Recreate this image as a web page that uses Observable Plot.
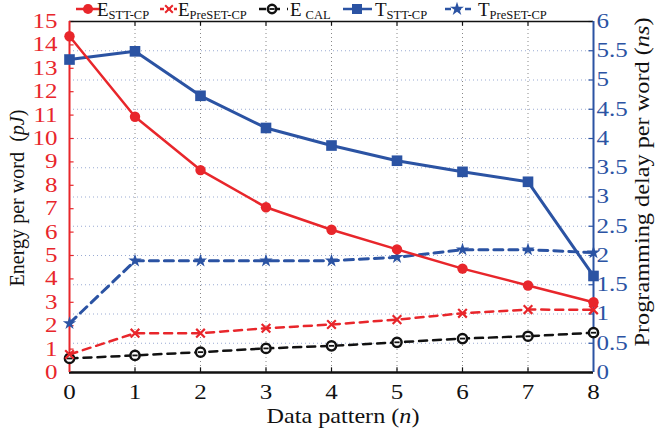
<!DOCTYPE html>
<html><head><meta charset="utf-8">
<script src="https://cdn.jsdelivr.net/npm/d3@7"></script>
<script src="https://cdn.jsdelivr.net/npm/@observablehq/plot@0.6"></script>
<style>body{margin:0;background:#fff} #chart{width:655px;height:432px;position:relative}</style>
</head><body><div id="chart"></div>
<script>
// ---- data ----
const patterns = [0, 1, 2, 3, 4, 5, 6, 7, 8];
const energySTT    = [14.37, 10.93, 8.65, 7.06, 6.10, 5.26, 4.44, 3.72, 3.00];
const energyPreSET = [0.77, 1.68, 1.68, 1.89, 2.05, 2.26, 2.53, 2.69, 2.68];
const energyCAL    = [0.60, 0.73, 0.87, 1.03, 1.14, 1.29, 1.45, 1.55, 1.70];
const delaySTT     = [5.35, 5.49, 4.73, 4.18, 3.88, 3.62, 3.43, 3.26, 1.65];
const delayPreSET  = [0.84, 1.91, 1.91, 1.91, 1.91, 1.97, 2.10, 2.10, 2.05];
const energyTicks = [0,1,2,3,4,5,6,7,8,9,10,11,12,13,14,15];
const delayTicks = [0,0.5,1,1.5,2,2.5,3,3.5,4,4.5,5,5.5,6];
const legendMain = ["E", "E", "E", "T", "T"];
const legendSub = ["STT-CP", "PreSET-CP", "CAL", "STT-CP", "PreSET-CP"];
const xTitle = ["Data pattern (", "n", ")"];
const yTitle = ["Energy per word  (", "pJ", ")"];
const y2Title = ["Programming delay per word (", "ns", ")"];

// ---- styling ----
const FONT = "'Liberation Serif', 'Times New Roman', serif";
const RED = "#e8262b", BLUE = "#2b53a3", BLACK = "#111";
const K = 15 / 6; // the right axis (0–6 ns) shares the left axis (0–15 pJ)

const rows = (vals, k = 1) => patterns.map((n, i) => ({n, v: vals[i] * k}));
const eSTT = rows(energySTT), ePre = rows(energyPreSET), eCal = rows(energyCAL);
const tSTT = rows(delaySTT, K), tPre = rows(delayPreSET, K);
const minus = {draw(ctx, size) { const r = Math.sqrt(size / Math.PI); ctx.moveTo(-r, 0); ctx.lineTo(r, 0); }};

const inner = patterns.filter(d => d > 0 && d < 8);
const chart = Plot.plot({
  width: 655, height: 432,
  marginLeft: 69, marginRight: 62, marginTop: 21, marginBottom: 60,
  style: {fontFamily: FONT, background: "#fff", overflow: "visible"},
  x: {domain: [0, 8]},
  y: {domain: [0, 15]},
  marks: [
    // grid
    Plot.ruleX(inner, {x: d => d, stroke: "#888", strokeDasharray: "1,3", strokeWidth: 1}),
    Plot.ruleY(delayTicks.slice(1, -1), {y: d => d * K, stroke: "#9aabd3", strokeDasharray: "1,3", strokeWidth: 1}),
    // ticks inside the frame
    Plot.ruleX(inner, {x: d => d, y1: 0, y2: 0.2, stroke: BLACK, strokeWidth: 1.2}),
    Plot.ruleX(inner, {x: d => d, y1: 15, y2: 14.8, stroke: BLACK, strokeWidth: 1.2}),
    Plot.ruleY(energyTicks, {y: d => d, x1: 0, x2: 0.07, stroke: RED, strokeWidth: 1.2}),
    Plot.ruleY(delayTicks, {y: d => d * K, x1: 8, x2: 7.93, stroke: BLUE, strokeWidth: 1.2}),
    // frame
    Plot.ruleY([15], {stroke: BLACK, strokeWidth: 1.5}),
    Plot.ruleY([0], {stroke: BLACK, strokeWidth: 2.5}),
    Plot.ruleX([0], {stroke: RED, strokeWidth: 2}),
    Plot.ruleX([8], {stroke: BLUE, strokeWidth: 2}),
    // axes
    Plot.axisX(patterns, {tickSize: 0, tickPadding: 12, fontSize: 20, color: BLACK, label: null}),
    Plot.axisY(energyTicks, {anchor: "left", tickSize: 0, tickPadding: 12, fontSize: 20, color: RED, label: null}),
    Plot.axisY(delayTicks.map(d => d * K), {anchor: "right", tickSize: 0, tickPadding: 3, fontSize: 20, color: BLUE, label: null,
      tickFormat: d => String(+(d / K).toFixed(2))}),
    // delay series
    Plot.line(tSTT, {x: "n", y: "v", stroke: BLUE, strokeWidth: 3}),
    Plot.dot(tSTT, {x: "n", y: "v", symbol: "square", r: 6, fill: BLUE}),
    Plot.line(tPre, {x: "n", y: "v", stroke: BLUE, strokeWidth: 3, strokeDasharray: "9,6"}),
    Plot.dot(tPre, {x: "n", y: "v", symbol: "star", r: 4.2, fill: BLUE}),
    // energy series
    Plot.line(eCal, {x: "n", y: "v", stroke: BLACK, strokeWidth: 2.5, strokeDasharray: "8,6"}),
    Plot.dot(eCal, {x: "n", y: "v", r: 4.6, fill: "#fff", stroke: BLACK, strokeWidth: 2.5}),
    Plot.dot(eCal, {x: "n", y: "v", r: 2.6, symbol: minus, stroke: BLACK, strokeWidth: 1.8}),
    Plot.line(ePre, {x: "n", y: "v", stroke: RED, strokeWidth: 2.5, strokeDasharray: "8,6"}),
    Plot.dot(ePre, {x: "n", y: "v", symbol: "times", r: 4, stroke: RED, strokeWidth: 2.2}),
    Plot.line(eSTT, {x: "n", y: "v", stroke: RED, strokeWidth: 2.5}),
    Plot.dot(eSTT, {x: "n", y: "v", r: 5.2, fill: RED})
  ]
});
document.getElementById("chart").appendChild(chart);

// widen tick labels horizontally like the reference (scale about each label's anchor)
chart.querySelectorAll('g[aria-label$="tick label"] text').forEach(t => {
  const tr = t.getAttribute("transform") || "";
  t.setAttribute("transform", `${tr} scale(1.25,1)`);
});

const svg = d3.select(chart);
// titles
function title(parts, attrs, italicIndex) {
  const t = svg.append("text").attr("font-family", FONT);
  Object.entries(attrs).forEach(([k, v]) => t.attr(k, v));
  parts.forEach((p, i) => t.append("tspan").attr("font-style", i === italicIndex ? "italic" : null)
    .style("white-space", "pre").text(p));
  return t;
}
title(xTitle, {"font-size": 21, "text-anchor": "middle", transform: "translate(343,423)",
  textLength: 153, lengthAdjust: "spacingAndGlyphs", fill: BLACK}, 1);
title(yTitle, {"font-size": 20, "text-anchor": "middle", transform: "translate(24,198) rotate(-90)",
  textLength: 177, lengthAdjust: "spacingAndGlyphs", fill: BLACK}, 1);
title(y2Title, {"font-size": 20, "text-anchor": "middle", transform: "translate(649,182) rotate(-90)",
  textLength: 329, lengthAdjust: "spacingAndGlyphs", fill: BLACK}, 1);

// legend
const legendLayout = [
  {x0: 76, x1: 100, m: 88, tx: 97, color: RED, dash: null, sym: d3.symbolCircle, size: 80, fill: RED, stroke: "none", sw: 0},
  {x0: 160, x1: 177, m: 169, tx: 178, color: RED, dash: "4,3", sym: d3.symbolTimes, size: 40, fill: "none", stroke: RED, sw: 2},
  {x0: 259, x1: 288, m: 272, tx: 290, color: BLACK, dash: "7,7", sym: d3.symbolCircle, size: 55, fill: "#fff", stroke: BLACK, sw: 2.5, sub: 4},
  {x0: 343, x1: 372, m: 357, tx: 375, color: BLUE, dash: null, sym: d3.symbolSquare, size: 100, fill: BLUE, stroke: "none", sw: 0},
  {x0: 445, x1: 473, m: 457, tx: 478, color: BLUE, dash: "6,4", sym: d3.symbolStar, size: 60, fill: BLUE, stroke: "none", sw: 0}
];
const lg = svg.append("g").attr("font-family", FONT).attr("text-anchor", "start");
legendLayout.forEach((L, i) => {
  lg.append("line").attr("x1", L.x0).attr("x2", L.x1).attr("y1", 9).attr("y2", 9)
    .attr("stroke", L.color).attr("stroke-width", 2.5).attr("stroke-dasharray", L.dash);
  lg.append("path").attr("d", d3.symbol(L.sym, L.size)()).attr("transform", `translate(${L.m},9)`)
    .attr("fill", L.fill).attr("stroke", L.stroke).attr("stroke-width", L.sw);
  if (i === 2) lg.append("path").attr("d", "M-2.6,0H2.6").attr("transform", `translate(${L.m},9)`)
    .attr("stroke", BLACK).attr("stroke-width", 1.8);
  const t = lg.append("text").attr("x", L.tx).attr("y", 15.5).attr("font-size", 19).attr("fill", BLACK);
  t.append("tspan").text(legendMain[i]);
  t.append("tspan").attr("font-size", 12.5).attr("dy", 3).attr("dx", L.sub || 0).text(legendSub[i]);
});
</script>
</body></html>
